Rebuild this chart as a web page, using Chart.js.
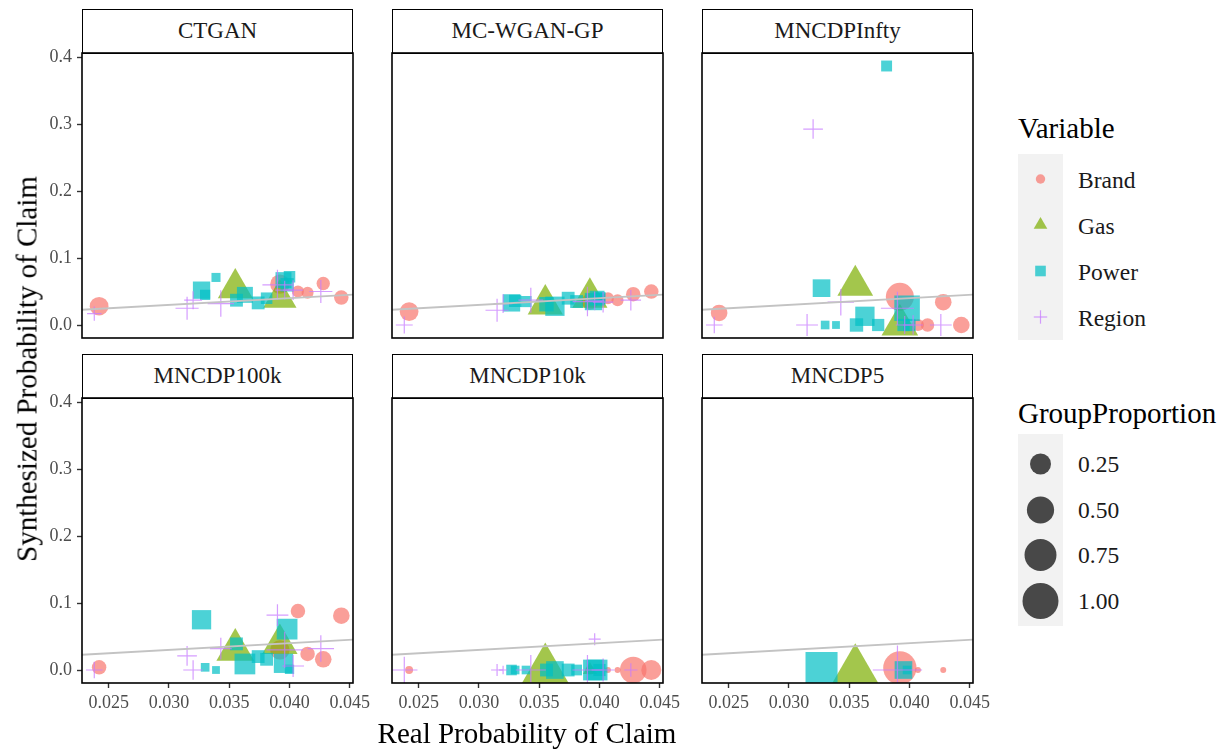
<!DOCTYPE html>
<html>
<head>
<meta charset="utf-8">
<script src="https://cdn.jsdelivr.net/npm/chart.js@4"></script>
<style>
body { margin: 0; background: #fff; width: 1227px; height: 752px; position: relative; overflow: hidden; font-family: "Liberation Serif", "Times New Roman", serif; }
canvas { position: absolute; }
.strip { position: absolute; box-sizing: border-box; border: 1.5px solid #000; background: #fff; text-align: center; font-size: 23px; color: #1a1a1a; }
.txt { position: absolute; white-space: nowrap; color: #000; }
.ltitle { font-size: 29px; line-height: 32px; }
.llab { font-size: 23.5px; line-height: 28px; color: #1a1a1a; }
svg { position: absolute; }
</style>
</head>
<body>
<div id="root"></div>

<div class="txt" style="left:527px;top:733px;transform:translate(-50%,-50%);font-size:29px;">Real Probability of Claim</div>
<div class="txt" style="left:27px;top:369px;transform:translate(-50%,-50%) rotate(-90deg);font-size:29px;">Synthesized Probability of Claim</div>

<div class="txt ltitle" style="left:1018px;top:112px;">Variable</div>
<svg style="left:1018px;top:154px;" width="45" height="186">
  <rect x="0" y="0" width="45" height="186" fill="#f2f2f2"/>
  <circle cx="22.5" cy="25" r="4.7" fill="rgba(248,118,109,0.7)"/>
  <polygon points="22.5,63 29.3,74.7 15.7,74.7" fill="rgba(124,174,0,0.7)"/>
  <rect x="17.2" y="111.7" width="10.6" height="10.6" fill="rgba(0,191,196,0.7)"/>
  <line x1="15.8" y1="163" x2="29.2" y2="163" stroke="rgba(199,124,255,0.75)" stroke-width="1.2"/>
  <line x1="22.5" y1="156.3" x2="22.5" y2="169.7" stroke="rgba(199,124,255,0.75)" stroke-width="1.2"/>
</svg>
<div class="txt llab" style="left:1078px;top:166px;">Brand</div>
<div class="txt llab" style="left:1078px;top:212px;">Gas</div>
<div class="txt llab" style="left:1078px;top:258px;">Power</div>
<div class="txt llab" style="left:1078px;top:304px;">Region</div>

<div class="txt ltitle" style="left:1018px;top:397px;">GroupProportion</div>
<svg id="sizeKeys" style="left:1018px;top:434px;" width="45" height="192"></svg>
<div class="txt llab" style="left:1078px;top:450px;">0.25</div>
<div class="txt llab" style="left:1078px;top:496px;">0.50</div>
<div class="txt llab" style="left:1078px;top:541px;">0.75</div>
<div class="txt llab" style="left:1078px;top:587px;">1.00</div>

<script>
// facets, in reading order
const panels = ["CTGAN", "MC-WGAN-GP", "MNCDPInfty", "MNCDP100k", "MNCDP10k", "MNCDP5"];

const xTicks = [0.025, 0.030, 0.035, 0.040, 0.045];
const yTicks = [0.0, 0.1, 0.2, 0.3, 0.4];
const sizeBreaks = [0.25, 0.50, 0.75, 1.00];

// real probability of claim per group (same in every facet)
const realBrand = [0.0242, 0.0392, 0.0407, 0.0415, 0.0428, 0.0443];
const realGas = [0.0355, 0.0392];
const realPower = [0.0327, 0.0330, 0.0339, 0.0356, 0.0363, 0.0374, 0.0381, 0.0395, 0.0398, 0.0400];
const realRegion = [0.0238, 0.0315, 0.0320, 0.0343, 0.0390, 0.0396, 0.0403, 0.0426];

// synthesized probability, one row per facet (null = group absent)
const brandSynth = [
	[0.028, 0.061, 0.050, 0.048, 0.062, 0.041],
	[0.020, 0.035, 0.040, 0.037, 0.046, 0.050],
	[0.018, 0.042, 0.000, 0.000, 0.034, 0.000],
	[0.004, 0.030, 0.088, 0.024, 0.016, 0.081],
	[0.000, 0.000, 0.000, 0.000, 0.000, 0.000],
	[null, 0.003, 0.000, null, 0.000, null],
];
const gasSynth = [
	[0.055, 0.040],
	[0.031, 0.041],
	[0.059, 0.000],
	[0.030, 0.039],
	[0.000, 0.000],
	[0.000, null],
];
const powerSynth = [
	[0.052, 0.045, 0.071, 0.037, 0.045, 0.033, 0.040, 0.067, 0.060, 0.072],
	[0.033, 0.036, 0.035, 0.031, 0.028, 0.040, 0.035, 0.035, 0.040, 0.040],
	[0.055, 0.000, 0.000, 0.000, 0.013, 0.000, 0.3866, 0.000, 0.025, 0.000],
	[0.075, 0.004, 0.000, 0.039, 0.009, 0.020, 0.016, 0.010, 0.061, 0.001],
	[0.000, 0.000, 0.000, 0.000, 0.000, 0.000, 0.000, 0.000, 0.000, 0.000],
	[0.003, null, null, null, null, null, null, 0.000, 0.000, null],
];
const regionSynth = [
	[0.017, 0.025, 0.037, 0.032, 0.060, 0.052, 0.052, 0.050],
	[0.000, 0.022, 0.032, 0.037, 0.035, 0.036, 0.034, 0.037],
	[0.000, 0.000, 0.2925, 0.034, 0.025, 0.000, 0.000, 0.000],
	[0.000, 0.021, 0.000, 0.032, 0.082, 0.030, 0.006, 0.032],
	[0.000, 0.000, 0.000, 0.000, 0.000, 0.046, 0.000, 0.000],
	[null, null, null, null, 0.000, null, null, null],
];

// group proportion (point size), one row per facet
const brandProp = [
	[0.18, 0.20, 0.04, 0.04, 0.06, 0.08],
	[0.18, 0.12, 0.04, 0.04, 0.08, 0.08],
	[0.125, 0.54, 0.04, 0.06, 0.125, 0.125],
	[0.08, 0.20, 0.08, 0.08, 0.125, 0.125],
	[0.004, 0.01, 0.0, 0.0, 0.47, 0.22],
	[0, 0.83, 0, 0, 0, 0],
];
const gasProp = [
	[0.44, 0.39],
	[0.45, 0.45],
	[0.47, 0.50],
	[0.54, 0.46],
	[0.95, 0.02],
	[0.90, 0],
];
const powerProp = [
	[0.16, 0.024, 0.013, 0.06, 0.125, 0.06, 0.04, 0.125, 0.07, 0.04],
	[0.16, 0.05, 0.035, 0.09, 0.22, 0.06, 0.06, 0.16, 0.10, 0.05],
	[0.17, 0.01, 0.005, 0.07, 0.22, 0.05, 0.032, 0.05, 0.47, 0.05],
	[0.22, 0.01, 0.005, 0.06, 0.27, 0.06, 0.06, 0.22, 0.27, 0.015],
	[0.028, 0.01, 0.01, 0.06, 0.17, 0.06, 0.03, 0.27, 0.27, 0.05],
	[0.83, 0, 0, 0, 0, 0, 0, 0.17, 0.01, 0],
];
const regionProp = [
	[0.02, 0.12, 0.05, 0.18, 0.26, 0.06, 0.07, 0.12],
	[0.04, 0.12, 0.06, 0.15, 0.25, 0.06, 0.08, 0.08],
	[0.037, 0.10, 0.07, 0.18, 0.34, 0.05, 0.07, 0.10],
	[0.037, 0.07, 0.07, 0.10, 0.10, 0.44, 0.10, 0.18],
	[0.18, 0.007, 0, 0.26, 0.26, 0.007, 0.12, 0.013],
	[0, 0, 0, 0, 0.93, 0, 0, 0],
];

// axis limits (ggplot expanded ranges)
const X_MIN = 0.02278, X_MAX = 0.04527;
const Y_MIN = -0.0194, Y_MAX = 0.406;

const series = [
	{ label: "Brand", real: realBrand, synth: brandSynth, prop: brandProp, style: "circle", rgb: "248,118,109", k: 1, order: 4 },
	{ label: "Gas", real: realGas, synth: gasSynth, prop: gasProp, style: "triangle", rgb: "124,174,0", k: 1.555, order: 3 },
	{ label: "Power", real: realPower, synth: powerSynth, prop: powerProp, style: "rect", rgb: "0,191,196", k: 1.36, order: 2 },
	{ label: "Region", real: realRegion, synth: regionSynth, prop: regionProp, style: "cross", rgb: "199,124,255", k: 1.41, order: 1 },
];

const sizeOf = (p) => 3 + 15 * Math.sqrt(p);

const colLeft = [82, 392, 702];
const rowTop = [53, 398];
const PW = 271, PH = 285;
const PAD_L = 60, PAD_T = 4, PAD_R = 30, PAD_B = 40;

const panelBorder = {
	id: "panelBorder",
	afterDatasetsDraw(chart) {
		const { ctx, chartArea: a } = chart;
		ctx.save();
		ctx.strokeStyle = "#000";
		ctx.lineWidth = 1.6;
		ctx.strokeRect(a.left, a.top, a.right - a.left, a.bottom - a.top);
		ctx.restore();
	},
};

const buildPoints = (real, synth, prop) => {
	const out = [];
	real.forEach((x, i) => {
		if (synth[i] !== null) out.push({ x: x, y: synth[i], p: prop[i] });
	});
	return out;
};

const tickFont = { family: "'Liberation Serif', 'Times New Roman', serif", size: 18 };

const createPanel = (index) => {
	const col = index % 3;
	const row = Math.floor(index / 3);
	const left = colLeft[col];
	const top = rowTop[row];
	const root = document.getElementById("root");

	const strip = document.createElement("div");
	strip.className = "strip";
	strip.style.left = left + "px";
	strip.style.top = top - 44 + "px";
	strip.style.width = PW + "px";
	strip.style.height = "45px";
	strip.style.lineHeight = "41px";
	strip.textContent = panels[index];
	root.appendChild(strip);

	const canvas = document.createElement("canvas");
	canvas.width = PAD_L + PW + PAD_R;
	canvas.height = PAD_T + PH + PAD_B;
	canvas.style.left = left - PAD_L + "px";
	canvas.style.top = top - PAD_T + "px";
	root.appendChild(canvas);

	const datasets = series.map((s) => ({
		label: s.label,
		data: buildPoints(s.real, s.synth[index], s.prop[index]),
		pointStyle: s.style,
		pointRadius: (c) => (c.raw ? s.k * sizeOf(c.raw.p) : 3),
		pointHoverRadius: (c) => (c.raw ? s.k * sizeOf(c.raw.p) : 3),
		pointBackgroundColor: "rgba(" + s.rgb + ",0.7)",
		pointBorderColor: "rgba(" + s.rgb + ",0.75)",
		pointBorderWidth: s.style === "cross" ? 1.2 : 0,
		order: s.order,
		clip: 0,
	}));

	datasets.push({
		label: "identity",
		type: "line",
		data: [
			{ x: X_MIN, y: X_MIN },
			{ x: X_MAX, y: X_MAX },
		],
		showLine: true,
		borderColor: "#c3c3c3",
		borderWidth: 1.8,
		pointRadius: 0,
		order: 0,
		clip: 0,
	});

	const showY = col === 0;
	const showX = row === 1;

	new Chart(canvas, {
		type: "scatter",
		data: { datasets: datasets },
		options: {
			responsive: false,
			animation: false,
			events: [],
			layout: { autoPadding: false, padding: { left: 0, top: PAD_T, right: PAD_R, bottom: 0 } },
			plugins: { legend: { display: false }, tooltip: { enabled: false } },
			scales: {
				x: {
					type: "linear",
					min: X_MIN,
					max: X_MAX,
					afterBuildTicks: (scale) => {
						scale.ticks = xTicks.map((v) => ({ value: v }));
					},
					afterFit: (scale) => {
						scale.height = PAD_B;
						scale.paddingLeft = 0;
						scale.paddingRight = 0;
					},
					border: { display: false },
					grid: { display: showX, drawOnChartArea: false, drawTicks: showX, tickLength: 5, tickColor: "#333", tickWidth: 1.4 },
					ticks: {
						display: showX,
						padding: 4,
						color: "#4d4d4d",
						font: tickFont,
						maxRotation: 0,
						autoSkip: false,
						callback: (v) => v.toFixed(3),
					},
				},
				y: {
					type: "linear",
					min: Y_MIN,
					max: Y_MAX,
					afterBuildTicks: (scale) => {
						scale.ticks = yTicks.map((v) => ({ value: v }));
					},
					afterFit: (scale) => {
						scale.width = PAD_L;
						scale.paddingTop = 0;
						scale.paddingBottom = 0;
					},
					border: { display: false },
					grid: { display: showY, drawOnChartArea: false, drawTicks: showY, tickLength: 5, tickColor: "#333", tickWidth: 1.4 },
					ticks: {
						display: showY,
						padding: 5,
						color: "#4d4d4d",
						font: tickFont,
						autoSkip: false,
						callback: (v) => v.toFixed(1),
					},
				},
			},
		},
		plugins: [panelBorder],
	});
};

panels.forEach((name, i) => createPanel(i));

// size legend keys
const keys = document.getElementById("sizeKeys");
const keyY = [30, 76, 121, 167];
let svgText = '<rect x="0" y="0" width="45" height="192" fill="#f2f2f2"/>';
sizeBreaks.forEach((p, i) => {
	svgText += '<circle cx="22.5" cy="' + keyY[i] + '" r="' + sizeOf(p) + '" fill="rgba(0,0,0,0.7)"/>';
});
keys.innerHTML = svgText;
</script>
</body>
</html>
